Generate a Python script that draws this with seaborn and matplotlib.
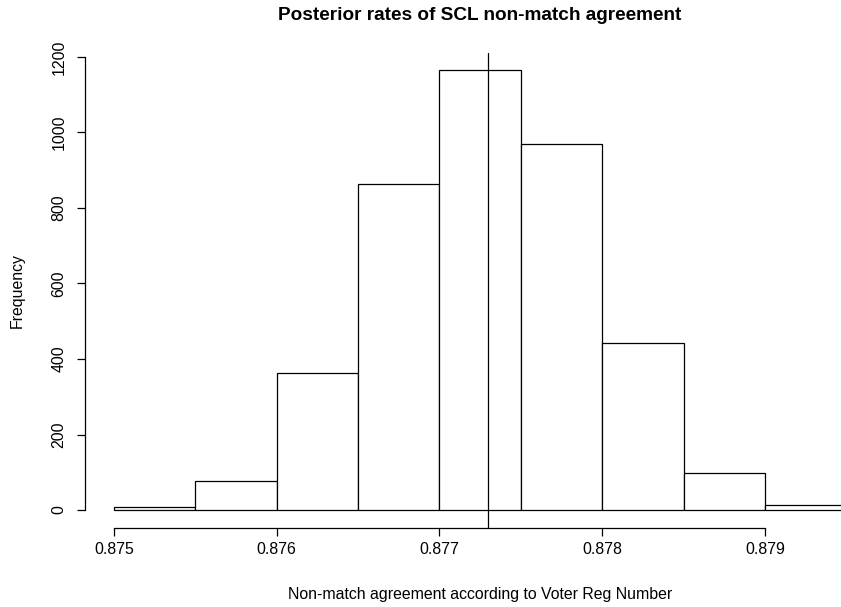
import matplotlib
matplotlib.use("Agg")
import matplotlib.pyplot as plt
import seaborn as sns
import numpy as np

# Histogram bins (edges) and the frequency in each bin
bin_edges = [0.8750, 0.8755, 0.8760, 0.8765, 0.8770, 0.8775, 0.8780, 0.8785, 0.8790, 0.8795]
frequencies = [9, 76, 363, 863, 1165, 970, 443, 99, 12]
posterior_mean = 0.8773

x_ticks = [0.875, 0.876, 0.877, 0.878, 0.879]
x_tick_labels = ["0.875", "0.876", "0.877", "0.878", "0.879"]
y_ticks = [0, 200, 400, 600, 800, 1000, 1200]
y_tick_labels = ["0", "200", "400", "600", "800", "1000", "1200"]

title = "Posterior rates of SCL non-match agreement"
x_label = "Non-match agreement according to Voter Reg Number"
y_label = "Frequency"

sns.set_theme(style="white")
plt.rcParams["font.family"] = ["Liberation Sans", "DejaVu Sans"]

W, H = 841, 607
fig = plt.figure(figsize=(W / 100, H / 100), dpi=100)
# plot region in pixels (left, top, right, bottom); extends past the right edge
left_px, top_px, right_px, bottom_px = 84.7, 52.6, 875.6, 527.6
ax = fig.add_axes([left_px / W, 1 - bottom_px / H,
                   (right_px - left_px) / W, (bottom_px - top_px) / H])

bin_left = bin_edges[:-1]
sns.histplot(x=bin_left, weights=frequencies, bins=bin_edges, ax=ax,
             stat="count", color="white", edgecolor="black", linewidth=0.9,
             alpha=1.0)

ax.axvline(posterior_mean, color="black", linewidth=0.9)

# R-style extended axis limits (4% padding)
xr = bin_edges[-1] - bin_edges[0]
ax.set_xlim(bin_edges[0] - 0.04 * xr, bin_edges[-1] + 0.04 * xr)
ymax = max(frequencies)
ax.set_ylim(-0.04 * ymax, ymax * 1.04)

ax.set_xticks(x_ticks)
ax.set_xticklabels(x_tick_labels)
ax.set_yticks(y_ticks)
ax.set_yticklabels(y_tick_labels, rotation=90, va="center")

for side in ["top", "right"]:
    ax.spines[side].set_visible(False)
ax.spines["left"].set_bounds(y_ticks[0], y_ticks[-1])
ax.spines["bottom"].set_bounds(x_ticks[0], x_ticks[-1])
for side in ["left", "bottom"]:
    ax.spines[side].set_color("black")
    ax.spines[side].set_linewidth(0.9)

ax.tick_params(axis="both", which="major", direction="out", length=6,
               width=0.9, color="black", labelsize=11.4, labelcolor="black",
               bottom=True, left=True)
ax.tick_params(axis="x", pad=4.5)
ax.tick_params(axis="y", pad=7)
ax.set_xlabel("")
ax.set_ylabel("")
ax.grid(False)

fig.text(480 / W, 1 - 16 / H, title, ha="center", va="center",
         fontsize=13.7, fontweight="bold", color="black")
fig.text(480 / W, 1 - 594 / H, x_label, ha="center", va="center",
         fontsize=11.4, color="black")
fig.text(17 / W, 1 - 290 / H, y_label, ha="center", va="center",
         rotation=90, fontsize=11.4, color="black")

fig.savefig("out.png", dpi=100, facecolor="white")
